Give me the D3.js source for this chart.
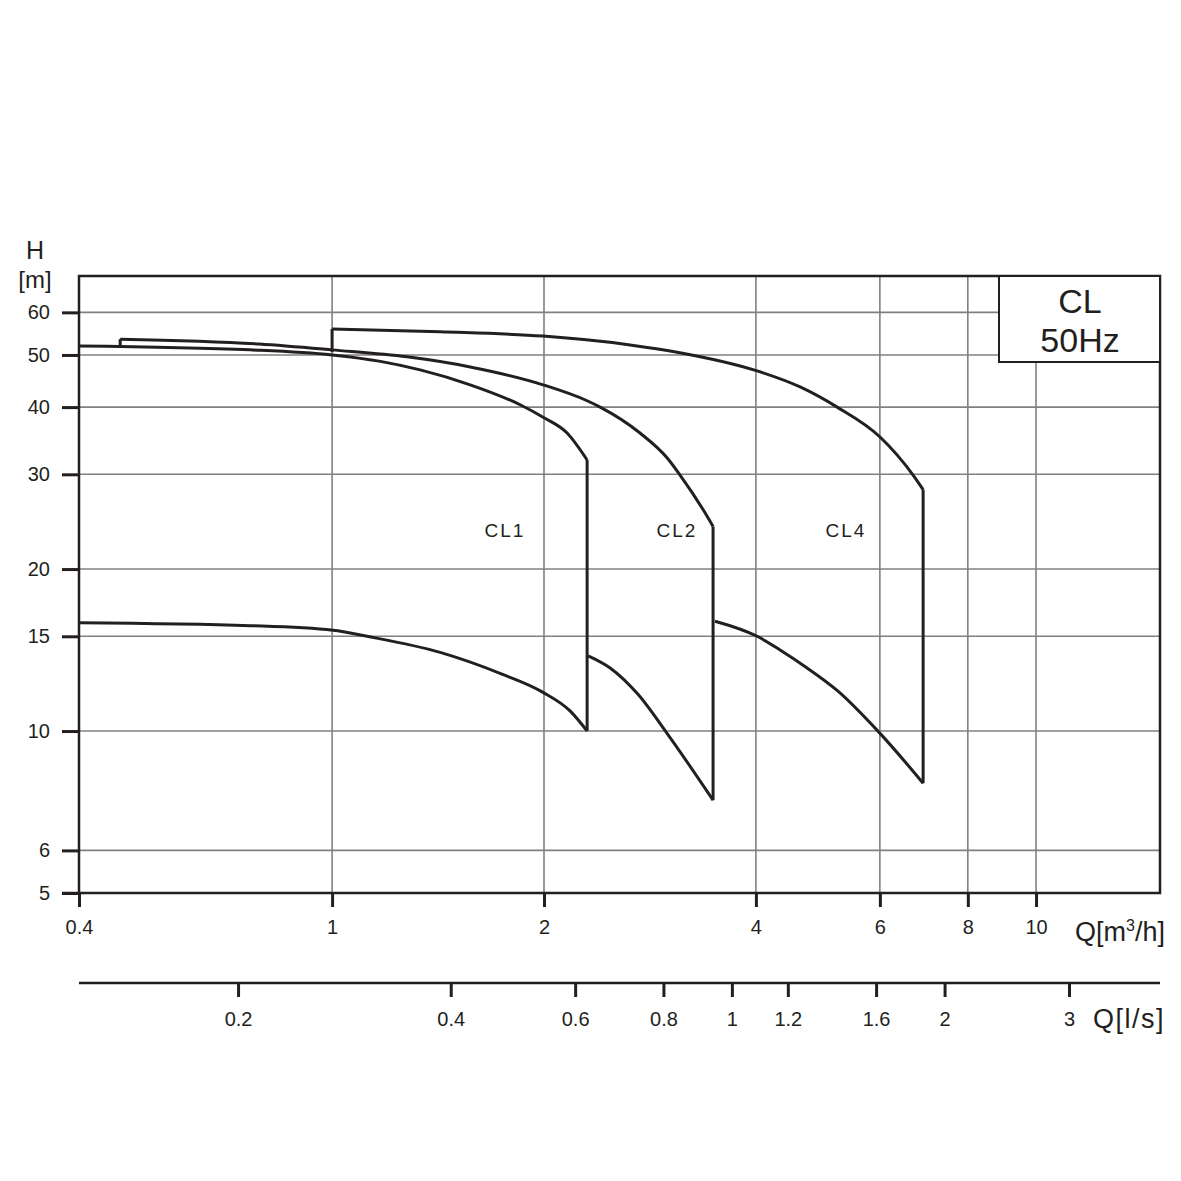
<!DOCTYPE html>
<html>
<head>
<meta charset="utf-8">
<script src="https://cdn.jsdelivr.net/npm/d3@7"></script>
<style>
  html, body { margin: 0; padding: 0; background: #ffffff; }
  svg { display: block; font-family: "Liberation Sans", Arial, sans-serif; }
</style>
</head>
<body>
<svg id="chart" width="1181" height="1181"></svg>
<script>
// ---------- data ----------
const qTicks = [0.4, 1, 2, 4, 6, 8, 10];
const qGrid = [1, 2, 4, 6, 8, 10];
const hTicks = [5, 6, 10, 15, 20, 30, 40, 50, 60];
const hGrid = [6, 10, 15, 20, 30, 40, 50, 60];
const lsTicks = [0.2, 0.4, 0.6, 0.8, 1, 1.2, 1.6, 2, 3];

const pumpNames = ["CL1", "CL2", "CL4"];
const labelQ = [1.76, 3.09, 5.37];
const labelH = [23.6, 23.6, 23.6];

// upper (max head) curves
const cl1TopQ = [0.437, 0.765, 1.0, 1.166, 1.334, 1.571, 1.85, 1.994, 2.157, 2.303];
const cl1TopH = [51.96, 51.1, 50.0, 48.7, 46.9, 44.0, 40.4, 38.3, 35.8, 31.9];
const cl2TopQ = [0.5, 0.788, 1.0, 1.278, 1.571, 1.994, 2.303, 2.403, 2.738, 2.991, 3.121, 3.365, 3.477];
const cl2TopH = [53.5, 52.4, 51.1, 49.6, 47.5, 44.0, 41.1, 40.0, 35.8, 32.2, 29.9, 25.8, 24.0];
const cl4TopQ = [1.0, 1.424, 1.994, 2.65, 3.091, 4.016, 4.622, 5.217, 6.003, 6.689, 6.912];
const cl4TopH = [55.9, 55.2, 54.2, 52.2, 50.6, 46.7, 43.6, 40.0, 35.2, 29.9, 28.1];
// step start heads (where the curve rises from the curve below)
const stepQ = [null, 0.5, 1.0];
const stepH = [null, 51.96, 50.6];

// lower (min head) curves
const cl1BotQ = [0.437, 0.765, 1.003, 1.121, 1.424, 1.732, 1.994, 2.178, 2.303];
const cl1BotH = [15.9, 15.7, 15.4, 15.0, 14.0, 12.8, 11.8, 10.9, 10.0];
const cl2BotQ = [2.311, 2.483, 2.72, 2.991, 3.477];
const cl2BotH = [13.8, 13.1, 11.7, 9.9, 7.44];
const cl4BotQ = [3.499, 4.016, 4.329, 4.729, 5.217, 6.003, 6.912];
const cl4BotH = [16.0, 15.0, 14.15, 13.1, 11.9, 9.9, 8.0];

const legendLines = ["CL", "50Hz"];

// ---------- layout ----------
const L = 79, R = 1160, T = 276, B = 893;
const svg = d3.select("#chart");
const ink = "#231f20", gridCol = "#808080";
const font = '"Liberation Sans", Arial, sans-serif';

const x = d3.scaleLog().domain([0.437, 15.0]).range([L, R]).clamp(true);
const y = d3.scaleLog().domain([5, 70.1]).range([B, T]);
const xs = d3.scaleLog().domain([0.1191, 4.036]).range([L, R]);

const legendBox = { x0: 999, y1: 362 };

// grid
const g = svg.append("g");
g.selectAll("line.vg").data(qGrid).enter().append("line")
  .attr("x1", d => x(d)).attr("x2", d => x(d))
  .attr("y1", d => (x(d) > legendBox.x0 ? legendBox.y1 : T)).attr("y2", B)
  .attr("stroke", gridCol).attr("stroke-width", 1.6);
g.selectAll("line.hg").data(hGrid).enter().append("line")
  .attr("x1", L).attr("x2", d => (y(d) < legendBox.y1 ? legendBox.x0 : R))
  .attr("y1", d => y(d)).attr("y2", d => y(d))
  .attr("stroke", gridCol).attr("stroke-width", 1.6);

// frame
svg.append("rect").attr("x", L).attr("y", T).attr("width", R - L).attr("height", B - T)
  .attr("fill", "none").attr("stroke", ink).attr("stroke-width", 2.5);

// left axis
const yAxis = d3.axisLeft(y).tickValues(hTicks).tickFormat(d3.format("d")).tickSize(17).tickPadding(12);
const ya = svg.append("g").attr("transform", `translate(${L},0)`).call(yAxis);
ya.select(".domain").remove();
ya.selectAll(".tick line").attr("stroke", ink).attr("stroke-width", 3);
ya.selectAll(".tick text").attr("fill", ink).style("font-size", "20px").style("font-family", font);

// bottom axis (m3/h)
const xAxis = d3.axisBottom(x).tickValues(qTicks).tickFormat(d => String(d)).tickSize(14).tickPadding(13);
const xa = svg.append("g").attr("transform", `translate(0,${B})`).call(xAxis);
xa.select(".domain").remove();
xa.selectAll(".tick line").attr("stroke", ink).attr("stroke-width", 3);
xa.selectAll(".tick text").attr("fill", ink).style("font-size", "20px").style("font-family", font);

// extend axis line at the corner
svg.append("line").attr("x1", 62).attr("x2", L).attr("y1", B).attr("y2", B)
  .attr("stroke", ink).attr("stroke-width", 2.5);

// second axis (l/s)
const lsY = 983;
const xsAxis = d3.axisBottom(xs).tickValues(lsTicks).tickFormat(d => String(d)).tickSize(14).tickPadding(15);
const xsa = svg.append("g").attr("transform", `translate(0,${lsY})`).call(xsAxis);
xsa.select(".domain").remove();
xsa.selectAll(".tick line").attr("stroke", ink).attr("stroke-width", 3);
xsa.selectAll(".tick text").attr("fill", ink).style("font-size", "20px").style("font-family", font);
svg.append("line").attr("x1", L).attr("x2", R).attr("y1", lsY).attr("y2", lsY)
  .attr("stroke", ink).attr("stroke-width", 2.5);

// axis titles
svg.append("text").attr("x", 35).attr("y", 259).attr("text-anchor", "middle")
  .attr("fill", ink).style("font-size", "25px").text("H");
svg.append("text").attr("x", 35).attr("y", 288).attr("text-anchor", "middle")
  .attr("fill", ink).style("font-size", "24px").text("[m]");
const qt = svg.append("text").attr("x", 1165).attr("y", 941).attr("text-anchor", "end")
  .attr("fill", ink).style("font-size", "27px");
qt.append("tspan").text("Q[m");
qt.append("tspan").attr("dy", -10).style("font-size", "16px").text("3");
qt.append("tspan").attr("dy", 10).text("/h]");
svg.append("text").attr("x", 1165).attr("y", 1028).attr("text-anchor", "end")
  .attr("fill", ink).style("font-size", "27px").style("letter-spacing", "1.5px").text("Q[l/s]");

// legend box
svg.append("rect").attr("x", legendBox.x0).attr("y", T).attr("width", R - legendBox.x0)
  .attr("height", legendBox.y1 - T).attr("fill", "#fff").attr("stroke", ink).attr("stroke-width", 2);
svg.selectAll("text.leg").data(legendLines).enter().append("text")
  .attr("x", 1080).attr("y", (d, i) => 313 + i * 39).attr("text-anchor", "middle")
  .attr("fill", ink).style("font-size", "34px").text(d => d);

// curves
const smooth = d3.line().x(d => x(d[0])).y(d => y(d[1])).curve(d3.curveMonotoneX);
const straight = d3.line().x(d => x(d[0])).y(d => y(d[1]));
const zip = (a, b) => a.map((v, i) => [v, b[i]]);

const pumps = [
  { top: zip(cl1TopQ, cl1TopH), bot: zip(cl1BotQ, cl1BotH) },
  { top: zip(cl2TopQ, cl2TopH), bot: zip(cl2BotQ, cl2BotH) },
  { top: zip(cl4TopQ, cl4TopH), bot: zip(cl4BotQ, cl4BotH) }
];
const cg = svg.append("g").attr("fill", "none").attr("stroke", ink)
  .attr("stroke-width", 3).attr("stroke-linejoin", "round");
pumps.forEach((p, i) => {
  cg.append("path").attr("d", smooth(p.top));
  cg.append("path").attr("d", smooth(p.bot));
  const lastTop = p.top[p.top.length - 1];
  const lastBot = p.bot[p.bot.length - 1];
  cg.append("path").attr("d", straight([lastTop, [lastTop[0], lastBot[1]]]));
  if (stepQ[i] !== null) {
    cg.append("path").attr("d", straight([[stepQ[i], stepH[i]], p.top[0]]));
  }
});

// pump labels
svg.selectAll("text.pl").data(pumpNames).enter().append("text")
  .attr("x", (d, i) => x(labelQ[i])).attr("y", (d, i) => y(labelH[i]))
  .attr("dy", "0.35em").attr("text-anchor", "middle")
  .attr("fill", ink).style("font-size", "19px").style("letter-spacing", "2px")
  .text(d => d);
</script>
</body>
</html>
